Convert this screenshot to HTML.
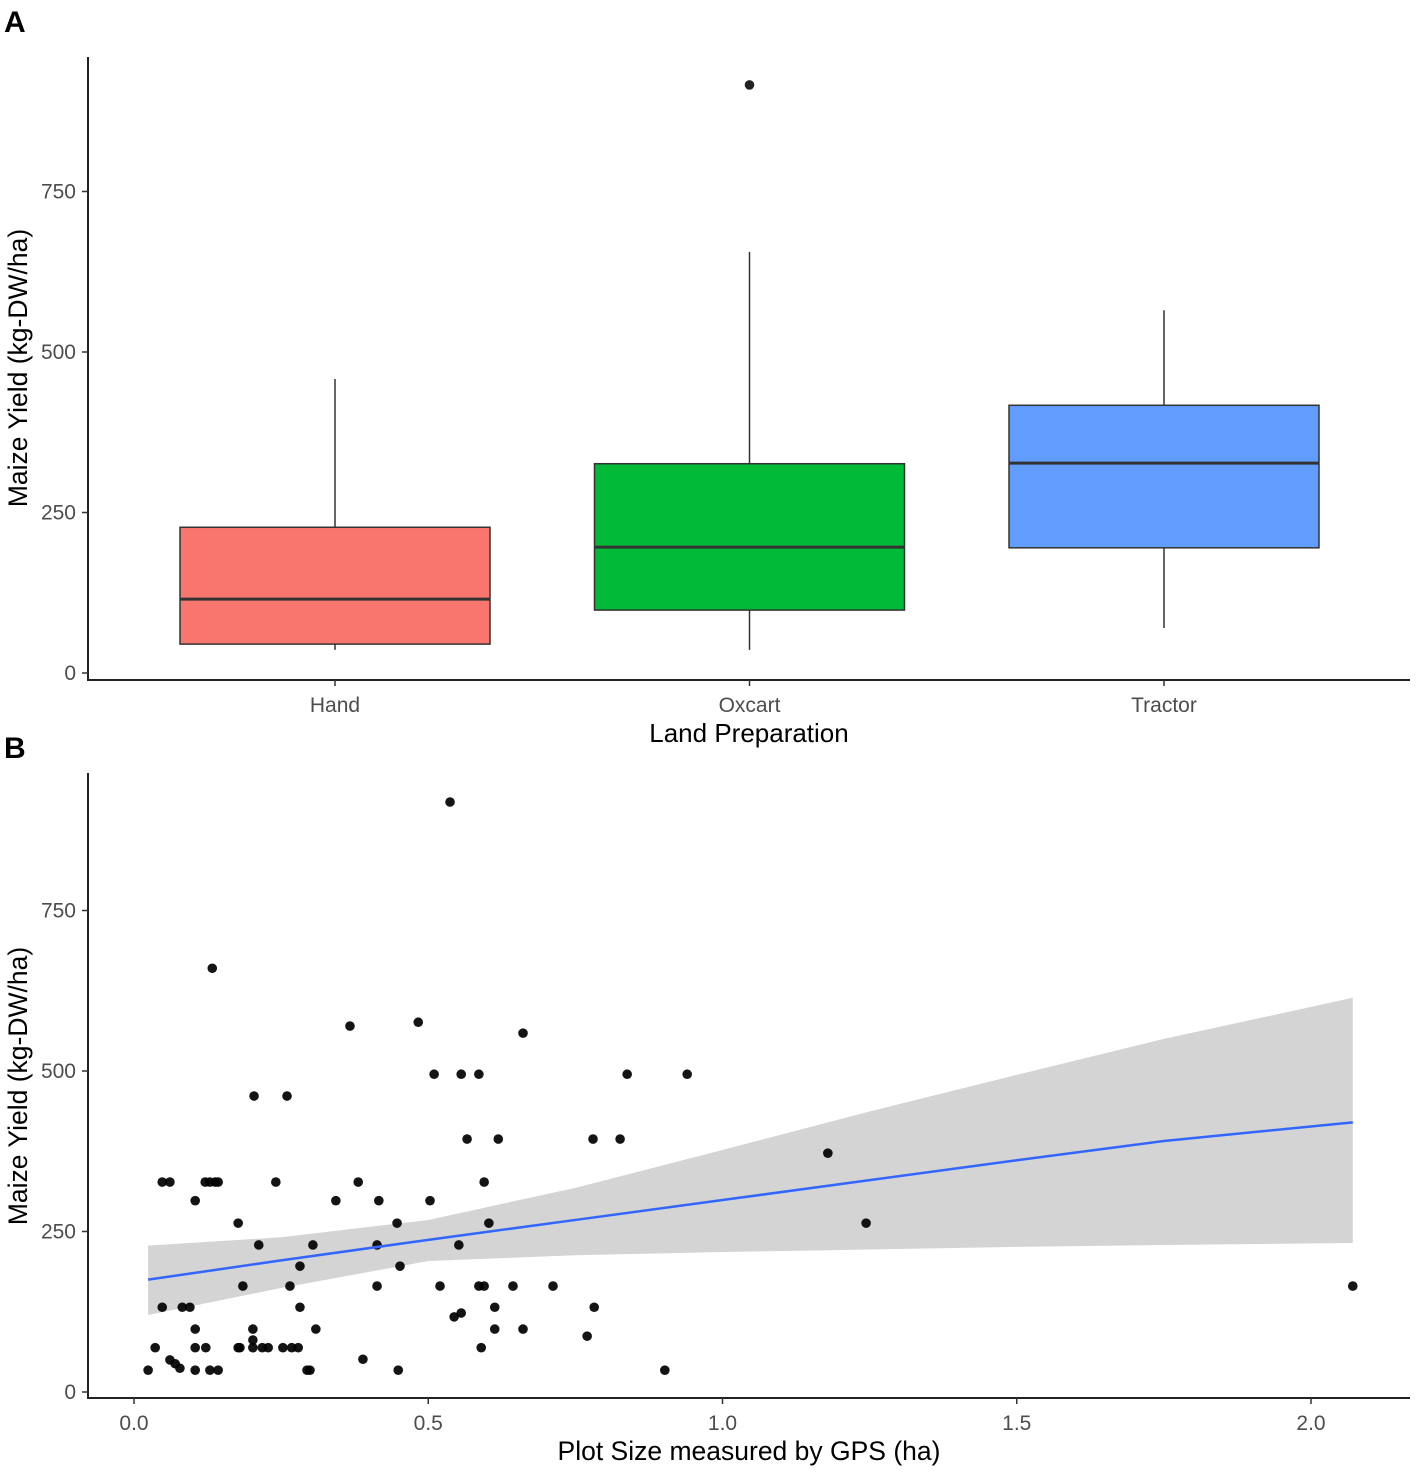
<!DOCTYPE html>
<html><head><meta charset="utf-8">
<style>
body{margin:0;background:#fff;}
svg{display:block;font-family:"Liberation Sans",Arial,sans-serif;}
</style></head>
<body>
<svg id="chart" width="1417" height="1472" viewBox="0 0 1417 1472">
<text x="4" y="32" font-size="30" font-weight="bold">A</text>
<text x="4" y="758" font-size="30" font-weight="bold">B</text>
<g id="pa"></g>
<g id="pb"></g>
</svg>
<script>
// Panel A data
const categories=["Hand","Oxcart","Tractor"];
const whiskerLow=[36,36,70];
const q1=[45,98,195];
const median=[115,196,327];
const q3=[227,326,417];
const whiskerHigh=[458,656,565];
const outliersCat=[1];
const outliersVal=[916];
const boxColors=["#F8766D","#00BA38","#619CFF"];
const yTicks=[0,250,500,750];
// Panel B data
const xVals=[0.024,0.036,0.048,0.048,0.061,0.061,0.070,0.078,0.082,0.095,0.104,0.104,0.104,0.104,0.121,0.129,0.138,0.143,0.122,0.129,0.143,0.133,0.177,0.180,0.185,0.177,0.202,0.202,0.202,0.204,0.212,0.218,0.228,0.241,0.253,0.260,0.265,0.268,0.279,0.282,0.282,0.294,0.299,0.304,0.309,0.343,0.367,0.381,0.389,0.413,0.416,0.413,0.447,0.452,0.449,0.483,0.503,0.510,0.520,0.537,0.544,0.552,0.556,0.556,0.566,0.586,0.586,0.590,0.595,0.595,0.603,0.613,0.613,0.619,0.644,0.661,0.661,0.712,0.770,0.780,0.782,0.826,0.838,0.902,0.940,1.179,1.244,2.071];
const yVals=[34,69,132,327,327,50,44,37,132,132,298,98,69,34,327,327,327,327,69,34,34,660,263,69,165,69,98,81,69,461,229,69,69,327,69,461,165,69,69,196,132,34,34,229,98,298,570,327,51,165,298,229,263,196,34,576,298,495,165,919,117,229,123,495,394,495,165,69,327,165,263,132,98,394,165,559,98,165,87,394,132,394,495,34,495,372,263,165];
const fitX=[0.024,0.25,0.5,0.75,1.0,1.25,1.5,1.75,2.071];
const fitY=[175,205,237,268,299,330,361,391,420];
const bandUpper=[228,241,268,318,377,437,494,550,614];
const bandLower=[120,162,204,213,218,222,226,229,232];
const xTicks=[0,0.5,1.0,1.5,2.0];
const xTickLabels=["0.0","0.5","1.0","1.5","2.0"];

const NS="http://www.w3.org/2000/svg";
function mk(parent,tag,attrs,text){const e=document.createElementNS(NS,tag);for(const k in attrs)e.setAttribute(k,attrs[k]);if(text!==undefined)e.textContent=text;parent.appendChild(e);return e;}

// ---- Panel A ----
const pa=document.getElementById('pa');
const yA=v=>673-v*0.642;
const xA=i=>335+i*414.5;
const bw=310;
mk(pa,'line',{x1:88,y1:57,x2:88,y2:681,stroke:'#222','stroke-width':2});
mk(pa,'line',{x1:87,y1:680,x2:1410,y2:680,stroke:'#222','stroke-width':2});
yTicks.forEach(t=>{
  let l=mk(pa,'line',{x1:82,y1:yA(t),x2:88,y2:yA(t),stroke:'#333','stroke-width':1.5});
  
  let tx=mk(pa,'text',{x:76,y:yA(t)+7,'font-size':21,fill:'#4d4d4d','text-anchor':'end'},String(t));
  
  
});
categories.forEach((c,i)=>{
  const cx=xA(i);
  let w=mk(pa,'line',{x1:cx,y1:yA(whiskerLow[i]),x2:cx,y2:yA(whiskerHigh[i]),stroke:'#333','stroke-width':1.5});
  
  let r=mk(pa,'rect',{x:cx-bw/2,y:yA(q3[i]),width:bw,height:yA(q1[i])-yA(q3[i]),fill:boxColors[i],stroke:'#333','stroke-width':1.5});
  
  
  let m=mk(pa,'line',{x1:cx-bw/2,y1:yA(median[i]),x2:cx+bw/2,y2:yA(median[i]),stroke:'#333','stroke-width':3});
  
  mk(pa,'line',{x1:cx,y1:680,x2:cx,y2:686,stroke:'#333','stroke-width':1.5});
  let tl=mk(pa,'text',{x:cx,y:712,'font-size':21,fill:'#4d4d4d','text-anchor':'middle'},c);
  
  
});
outliersCat.forEach((ci,k)=>{
  let o=mk(pa,'circle',{cx:xA(ci),cy:yA(outliersVal[k]),r:4.8,fill:'#222'});
  
  
});
let yta=mk(pa,'text',{x:0,y:0,'font-size':26.5,fill:'#000','text-anchor':'middle',transform:'translate(27,368) rotate(-90)'},'Maize Yield (kg-DW/ha)');

let xta=mk(pa,'text',{x:749,y:742,'font-size':26,fill:'#000','text-anchor':'middle'},'Land Preparation');


// ---- Panel B ----
const pb=document.getElementById('pb');
const yB=v=>1392-v*0.642;
const xB=v=>134+v*588.5;
let bandPts=fitX.map((x,i)=>xB(x)+','+yB(bandUpper[i])).concat(fitX.map((x,i)=>xB(x)+','+yB(bandLower[i])).reverse()).join(' ');
let band=mk(pb,'polygon',{points:bandPts,fill:'#d4d4d4'});

xVals.forEach((x,i)=>{
  let p=mk(pb,'circle',{cx:xB(x),cy:yB(yVals[i]),r:4.8,fill:'#000','fill-opacity':0.92});
  
  
});
let fl=mk(pb,'polyline',{points:fitX.map((x,i)=>xB(x)+','+yB(fitY[i])).join(' '),fill:'none',stroke:'#3366FF','stroke-width':2.5});

mk(pb,'line',{x1:88,y1:773,x2:88,y2:1399,stroke:'#222','stroke-width':2});
mk(pb,'line',{x1:87,y1:1398,x2:1410,y2:1398,stroke:'#222','stroke-width':2});
yTicks.forEach(t=>{
  mk(pb,'line',{x1:82,y1:yB(t),x2:88,y2:yB(t),stroke:'#333','stroke-width':1.5});
  let tx=mk(pb,'text',{x:76,y:yB(t)+7,'font-size':21,fill:'#4d4d4d','text-anchor':'end'},String(t));
  
  
});
xTicks.forEach((t,i)=>{
  mk(pb,'line',{x1:xB(t),y1:1398,x2:xB(t),y2:1404,stroke:'#333','stroke-width':1.5});
  let tx=mk(pb,'text',{x:xB(t),y:1430,'font-size':21,fill:'#4d4d4d','text-anchor':'middle'},xTickLabels[i]);
  
  
});
let ytb=mk(pb,'text',{x:0,y:0,'font-size':26.5,fill:'#000','text-anchor':'middle',transform:'translate(27,1086) rotate(-90)'},'Maize Yield (kg-DW/ha)');

let xtb=mk(pb,'text',{x:749,y:1460,'font-size':26.5,fill:'#000','text-anchor':'middle'},'Plot Size measured by GPS (ha)');

</script>
</body></html>
